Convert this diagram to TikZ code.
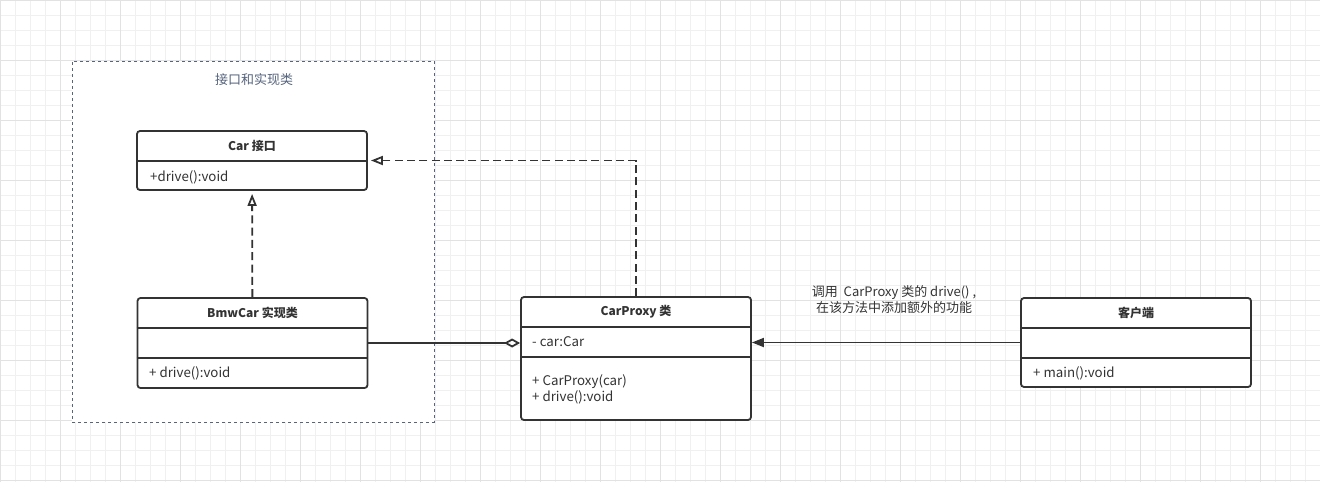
\documentclass[tikz,border=0pt]{standalone}
\usepackage{fontspec}
\setmainfont{Noto Sans CJK SC}
\usetikzlibrary{arrows.meta}

\definecolor{ink}{HTML}{333333}
\definecolor{groupline}{HTML}{56647E}
\definecolor{gridminor}{HTML}{F0F0F0}
\definecolor{gridmajor}{HTML}{E2E2E2}

\tikzset{
    umlclass/.style={draw=ink, line width=1.8pt, rounded corners=3pt, fill=white,
        minimum width=230pt, inner sep=0pt},
    classname/.style={font=\fontsize{12}{14}\selectfont\bfseries, text=ink},
    member/.style={anchor=west, inner sep=0pt, font=\fontsize{13.3}{16}\selectfont,
        text=ink, align=left},
    sepline/.style={draw=ink, line width=1.8pt},
    realize/.style={draw=ink, line width=1.8pt, dash pattern=on 8pt off 4.3pt, shorten >=3pt,
        -{Triangle[open, length=12pt, width=9pt, line width=1.8pt]}},
    aggregate/.style={draw=ink, line width=1.8pt,
        -{Diamond[open, length=16pt, width=9pt, line width=1.8pt]}},
    call/.style={draw=ink, line width=1.8pt,
        -{Triangle[length=12pt, width=9pt]}},
}

\begin{document}
\begin{tikzpicture}[x=1pt, y=-1pt]
    \useasboundingbox (0,0) rectangle (1320,482);
    % background grid
    \draw[gridminor, line width=0.8pt, step=15pt] (0,0) grid (1320,482);
    \draw[gridmajor, line width=0.8pt, step=60pt] (0,0) grid (1320,482);

    % group of interface and implementation
    \node[draw=groupline, fill=white, line width=0.8pt, dash pattern=on 3pt off 3pt,
        minimum width=362pt, minimum height=361pt] (group) at (253,241.5) {};
    \node[text=groupline, font=\fontsize{13}{14}\selectfont] (grouptitle) at (254,80) {接口和实现类};

    % classes
    \node[umlclass, minimum height=59pt]  (car)    at (252,160.5) {};
    \node[umlclass, minimum height=90pt]  (bmw)    at (252.5,343) {};
    \node[umlclass, minimum height=123pt] (proxy)  at (636,358.5) {};
    \node[umlclass, minimum height=89pt]  (client) at (1136,342.5) {};

    % class names
    \node[classname] (carname)    at (252,146) {Car 接口};
    \node[classname] (bmwname)    at (252.5,313) {BmwCar 实现类};
    \node[classname] (proxyname)  at (636,312) {CarProxy 类};
    \node[classname] (clientname) at (1136,313) {客户端};

    % compartments
    \draw[sepline] (car.west |- 0,161) -- (car.east |- 0,161);
    \draw[sepline] (bmw.west |- 0,328) -- (bmw.east |- 0,328);
    \draw[sepline] (bmw.west |- 0,358) -- (bmw.east |- 0,358);
    \draw[sepline] (proxy.west |- 0,327) -- (proxy.east |- 0,327);
    \draw[sepline] (proxy.west |- 0,357) -- (proxy.east |- 0,357);
    \draw[sepline] (client.west |- 0,328) -- (client.east |- 0,328);
    \draw[sepline] (client.west |- 0,358) -- (client.east |- 0,358);

    % members
    \node[member] (carop)     at (150,177) {+drive():void};
    \node[member] (bmwop)     at (149,373) {+ drive():void};
    \node[member] (proxyattr) at (532,342) {- car:Car};
    \node[member] (proxyop)   at (532,389) {+ CarProxy(car)\\+ drive():void};
    \node[member] (clientop)  at (1033,373) {+ main():void};

    % relations
    \path
        (bmw)
            edge [realize] (car)
        (bmw.east)
            edge [aggregate] (bmw.east -| proxy.west)
        (client.west)
            edge [call] (client.west -| proxy.east)
        ;
    \draw[realize] (proxy.north) |- (car.east);

    \node[font=\fontsize{13}{16}\selectfont, text=ink, align=center] (calllabel) at (894,300)
        {调用~~CarProxy 类的 drive()~,\\在该方法中添加额外的功能};
\end{tikzpicture}
\end{document}
